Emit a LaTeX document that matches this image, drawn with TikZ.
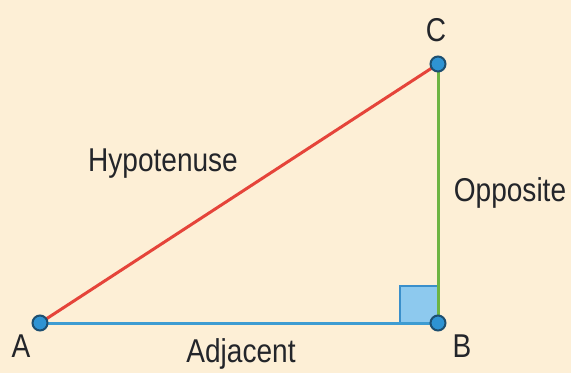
\documentclass[tikz,border=0pt]{standalone}
\usepackage{fontspec}
\setmainfont[FakeStretch=0.85]{Liberation Sans}
\definecolor{bg}{HTML}{FDEFD6}
\definecolor{txt}{HTML}{23252A}
\definecolor{hyp}{HTML}{E5443A}
\definecolor{opp}{HTML}{6DB443}
\definecolor{adj}{HTML}{3E9CD2}
\definecolor{dotfill}{HTML}{2E93D3}
\definecolor{dotedge}{HTML}{1D4F70}
\definecolor{sqfill}{HTML}{8DC9EE}
\definecolor{sqedge}{HTML}{3A8FCB}
\begin{document}
\begin{tikzpicture}[x=1pt,y=-1pt,
  lbl/.style={text=txt,font=\fontsize{33}{36}\selectfont,inner sep=0pt},
  vtx/.style={circle,fill=dotfill,draw=dotedge,line width=2pt,minimum size=15pt,inner sep=0pt},
  side/.style={line width=3pt}]
\fill[bg] (0,0) rectangle (571,373);
\useasboundingbox (0,0) rectangle (571,373);
\draw[sqedge,fill=sqfill,line width=2.5pt] (400,286) rectangle (438,323);
\coordinate (A) at (40,323);
\coordinate (B) at (438,323);
\coordinate (C) at (438,64);
\draw[side,hyp] (A) -- (C);
\draw[side,opp] (B) -- (C);
\draw[side,adj] (A) -- (B);
\node[vtx] (vA) at (A) {};
\node[vtx] (vB) at (B) {};
\node[vtx] (vC) at (C) {};
\node[lbl] (lA) at (21,346) {A};
\node[lbl] (lB) at (462,346) {B};
\node[lbl] (lC) at (436,30) {C};
\node[lbl] (lH) at (163,164) {Hypotenuse};
\node[lbl] (lO) at (510,193) {Opposite};
\node[lbl] (lJ) at (241,354) {Adjacent};
\end{tikzpicture}
\end{document}
